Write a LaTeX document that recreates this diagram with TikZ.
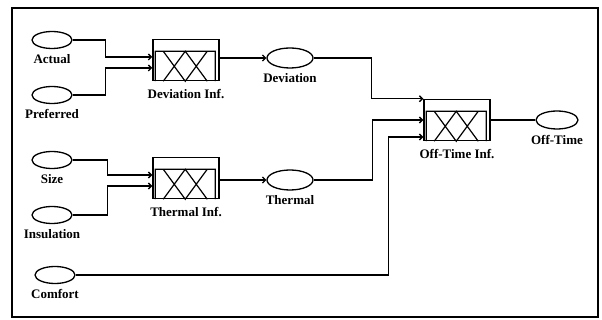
\documentclass[tikz,border=0pt]{standalone}
\usepackage{fontspec}
\setmainfont{Liberation Serif}
\usepackage{tikz}
\usetikzlibrary{shapes.geometric, arrows.meta, positioning, calc}
\tikzset{
  var/.style={ellipse, draw, line width=1.3pt, minimum width=40pt,
    minimum height=17pt, inner sep=0pt},
  midvar/.style={var, minimum width=46pt, minimum height=20pt},
  lbl/.style={font=\fontsize{13}{14}\selectfont\bfseries, inner sep=1pt},
  vlbl/.style={lbl, yshift=-4pt},
  blbl/.style={lbl, yshift=-7pt},
  infbox/.style={rectangle, draw, line width=1.5pt, minimum width=66pt,
    minimum height=41pt, inner sep=0pt},
  xx/.style={line width=1.2pt, x=1pt, y=1pt},
  arrow/.style={-{Straight Barb[length=3pt, width=6pt]}, line width=1.3pt},
  line/.style={line width=1.3pt}
}

\begin{document}
\begin{tikzpicture}[x=1pt, y=-1pt]
  \useasboundingbox (0,0) rectangle (602,320);
  \draw[line width=1.4pt] (12,8) rectangle (598,317);

  % Inputs
  \node[var, label={[vlbl]below:Actual}] (actual) at (52,40) {};
  \node[var, label={[vlbl]below:Preferred}] (preferred) at (52,95) {};
  \node[var, label={[vlbl]below:Size}] (size) at (52,160) {};
  \node[var, label={[vlbl]below:Insulation}] (insulation) at (52,215) {};
  \node[var, label={[vlbl]below:Comfort}] (comfort) at (55,275) {};

  % Inference blocks
  \node[infbox, label={[blbl]below:Deviation Inf.}] (devinf) at (186,60) {};
  \node[infbox, label={[blbl]below:Thermal Inf.}] (therminf) at (186,178) {};
  \node[infbox, label={[blbl]below:Off-Time Inf.}] (offinf) at (457,120) {};

  % membership sets inside the blocks
  \foreach \b in {devinf, therminf, offinf}
    \draw[xx, shift={(\b.south west)}]
      (3,0) -- (3,30) -- (63,30) -- (63,0)
      (11,30) -- (33,0) -- (55,30)
      (11,0) -- (33,30) -- (55,0);

  % Intermediate variables
  \node[midvar, label={[vlbl]below:Deviation}] (deviation) at (290,58) {};
  \node[midvar, label={[vlbl]below:Thermal}] (thermal) at (290,180) {};

  % Output
  \node[var, minimum width=42pt, minimum height=18pt,
    label={[vlbl]below:Off-Time}] (offtime) at (557,120) {};

  % Deviation Inf.
  \draw[arrow] (actual.east) -- ++(33,0) |- ($(devinf.west)+(0,-3)$);
  \draw[arrow] (preferred.east) -- ++(33,0) |- ($(devinf.west)+(0,8)$);
  \draw[arrow] (devinf.east |- deviation.west) -- (deviation.west);

  % Thermal Inf.
  \draw[arrow] (size.east) -- ++(35,0) |- ($(therminf.west)+(0,-3)$);
  \draw[arrow] (insulation.east) -- ++(35,0) |- ($(therminf.west)+(0,8)$);
  \draw[arrow] (therminf.east |- thermal.west) -- (thermal.west);

  % Off-Time Inf.
  \draw[arrow] (deviation.east) -- ++(58,0) |- (offinf.north west);
  \draw[arrow] (thermal.east) -- ++(59,0) |- (offinf.west);
  \draw[arrow] (comfort.east) -- ++(313,0) |- ($(offinf.west)+(0,17)$);
  \draw[line] (offinf.east) -- (offtime.west);
\end{tikzpicture}
\end{document}
